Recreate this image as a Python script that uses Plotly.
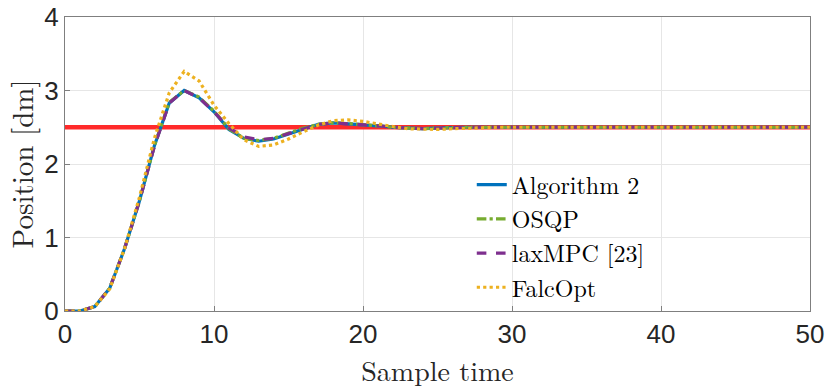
import plotly.graph_objects as go

# sample instants 0..50
k = list(range(51))

ref = [2.5] * 51

alg2 = [0.0, 0.0, 0.06, 0.31, 0.85, 1.5, 2.25, 2.83, 3.0, 2.9, 2.71, 2.47, 2.35, 2.31, 2.34, 2.41,
        2.48, 2.54, 2.56, 2.55, 2.54, 2.52, 2.5, 2.49, 2.48, 2.49, 2.5, 2.5, 2.5, 2.5, 2.5] + [2.5] * 20
osqp = [0.0, 0.0, 0.06, 0.31, 0.85, 1.5, 2.25, 2.84, 3.0, 2.91, 2.72, 2.48, 2.35, 2.32, 2.35, 2.42,
        2.49, 2.54, 2.56, 2.55, 2.54, 2.52, 2.5, 2.49, 2.48, 2.49, 2.5, 2.5, 2.5, 2.5, 2.5] + [2.5] * 20
laxmpc = [0.0, 0.0, 0.06, 0.31, 0.85, 1.5, 2.24, 2.83, 3.0, 2.9, 2.71, 2.49, 2.37, 2.33, 2.35, 2.41,
          2.48, 2.54, 2.56, 2.55, 2.54, 2.52, 2.5, 2.49, 2.48, 2.49, 2.5, 2.5, 2.5, 2.5, 2.5] + [2.5] * 20
falcopt = [0.0, 0.0, 0.06, 0.3, 0.85, 1.55, 2.35, 2.97, 3.26, 3.13, 2.8, 2.55, 2.33, 2.24, 2.26, 2.34,
           2.44, 2.53, 2.59, 2.6, 2.58, 2.54, 2.51, 2.48, 2.47, 2.47, 2.48, 2.49, 2.5, 2.5, 2.5] + [2.5] * 20

serif = 'Latin Modern Roman, DejaVu Serif, serif'

fig = go.Figure()
fig.add_trace(go.Scatter(x=k, y=ref, mode='lines', line=dict(color='#FF2A2A', width=4.5),
                         showlegend=False, hoverinfo='skip'))

series = [
    ('Algorithm 2', alg2, '#0072BD', 'solid'),
    ('OSQP', osqp, '#77AC30', 'dashdot'),
    ('laxMPC [23]', laxmpc, '#7E2F8E', 'dash'),
    ('FalcOpt', falcopt, '#EDB120', 'dot'),
]
for name, vals, col, dash in series:
    fig.add_trace(go.Scatter(x=k, y=vals, mode='lines', name=name,
                             line=dict(color=col, width=3.2, dash=dash)))

axis_common = dict(
    showgrid=True, gridcolor='#E6E6E6', gridwidth=1,
    showline=True, linecolor='#7F7F7F', linewidth=1.2, mirror=True,
    ticks='inside', ticklen=5, tickcolor='#7F7F7F',
    tickfont=dict(family='Liberation Sans, Arial', size=26, color='#262626'),
    ticklabeloverflow='allow',
    zeroline=False, automargin=False,
)

fig.update_layout(
    width=830, height=391,
    margin=dict(l=65, r=20, t=17, b=80),
    paper_bgcolor='white', plot_bgcolor='white',
    xaxis=dict(range=[0, 50], dtick=10,
               title=dict(text='Sample time', standoff=8,
                          font=dict(family=serif, size=28, color='#262626')),
               **axis_common),
    yaxis=dict(range=[0, 4], dtick=1,
               title=dict(text='Position [dm]', standoff=21,
                          font=dict(family=serif, size=29, color='#262626')),
               **axis_common),
    legend=dict(x=0.546, y=0.505, xanchor='left', yanchor='top',
                bgcolor='rgba(0,0,0,0)', borderwidth=0, itemwidth=30,
                font=dict(family=serif, size=24, color='#000000'),
                tracegroupgap=0),
    showlegend=True,
)

# drop the default page margin so the figure fills the window
fig.write_html("out.html", config={'displayModeBar': False},
               post_script="document.body.style.margin='0';")
